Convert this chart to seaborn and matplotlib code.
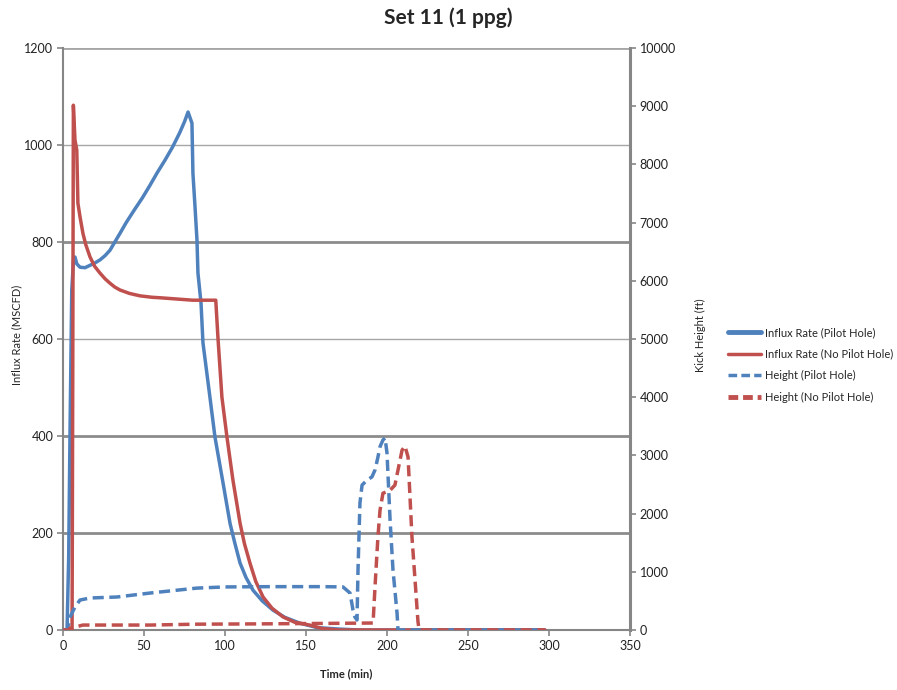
import matplotlib
matplotlib.use("Agg")
import matplotlib.pyplot as plt
from matplotlib.lines import Line2D
import numpy as np
import pandas as pd
import seaborn as sns

# Influx rate, pilot hole (left axis)
rate_pilot_t = [0, 2.5, 3.5, 4.3, 5.4, 6.5, 7.4, 8.5, 10.5, 13.6, 16.7, 19.8, 22.8, 26,
                29, 32, 35.2, 39, 44, 49, 53.7, 58, 63, 67.5, 72, 75, 77.2, 79.6,
                80.2, 81.5, 82.7, 83.3, 85.2, 86.4, 90.7, 93.8, 98.8, 103.1, 106,
                109.3, 113, 117.3, 123, 129.6, 137, 146.3, 156.8, 170, 183, 297.5]
rate_pilot_v = [0, 0, 150, 400, 700, 765, 769, 755, 748, 747, 752, 757, 763, 772,
                783, 800, 818, 840, 866, 891, 917, 942, 969, 995, 1025, 1048, 1068, 1045,
                942, 872, 804, 736, 674, 592, 480, 398, 303, 220, 180,
                138, 108, 82, 60, 41, 26, 14, 5, 2, 0, 0]

# Influx rate, no pilot hole (left axis)
rate_nopilot_t = [0, 5.6, 6.0, 6.4, 7.4, 8.5, 9.2, 10.5, 12.3, 14, 16.7, 19.5, 22.8,
                  26, 29, 32, 35.2, 41, 47.5, 55, 60, 72, 80, 94.3, 95, 95.7, 98.1,
                  101.2, 104.9, 109.3, 112, 115.4, 119, 123.5, 129, 135.8, 143, 152.5,
                  160, 170, 297.5]
rate_nopilot_v = [0, 0, 500, 1082, 1010, 990, 880, 852, 818, 795, 769, 750, 736,
                  724, 715, 707, 701, 694, 689, 686, 685, 682, 680, 680, 640, 600, 480,
                  398, 309, 220, 178, 138, 100, 68, 45, 27, 16, 10,
                  3, 0, 0]

# Kick height, pilot hole (right axis)
height_pilot_t = [0, 2.5, 3.1, 4.3, 7.4, 10.5, 16.7, 33.3, 53.7, 82.7, 100, 130, 160,
                  172.8, 177.2, 179, 180.2, 181.5, 182.1, 183.3, 184.6, 187.7, 190.7,
                  192.6, 194.4, 195.7, 197.5, 198.8, 200, 201.9, 203.7, 206.2, 206.8, 297.5]
height_pilot_v = [0, 0, 60, 220, 395, 515, 550, 567, 635, 720, 740, 745, 745,
                  740, 635, 344, 223, 172, 1030, 2180, 2490, 2577, 2630,
                  2750, 2970, 3150, 3265, 3300, 3040, 1890, 1030, 290, 0, 0]

# Kick height, no pilot hole (right axis)
height_nopilot_t = [0, 3.5, 4.3, 7.4, 12.3, 53.7, 82.7, 120, 170, 191.4, 192.6, 194.4,
                    195.7, 197.5, 201.9, 204.9, 206.8, 209.3, 211.1, 213, 215.4, 217.3,
                    219.1, 219.8, 297.5]
height_nopilot_v = [0, 0, 30, 50, 85, 85, 100, 105, 115, 120, 740, 1600,
                    2060, 2350, 2400, 2490, 2750, 3090, 3160, 2970, 1600, 860,
                    150, 0, 0]

labels = ["Influx Rate (Pilot Hole)", "Influx Rate (No Pilot Hole)",
          "Height (Pilot Hole)", "Height (No Pilot Hole)"]

BLUE = "#4F81BD"
RED = "#C0504D"

sns.set_style("white")
plt.rcParams["font.family"] = ["Lato", "DejaVu Sans"]

fig = plt.figure(figsize=(8.97, 6.90), dpi=100)
ax = fig.add_axes([63 / 897, 60 / 690, 567 / 897, 582 / 690])
ax2 = ax.twinx()

rate_p = pd.DataFrame({"t": rate_pilot_t, "v": rate_pilot_v})
rate_n = pd.DataFrame({"t": rate_nopilot_t, "v": rate_nopilot_v})
h_p = pd.DataFrame({"t": height_pilot_t, "v": height_pilot_v})
h_n = pd.DataFrame({"t": height_nopilot_t, "v": height_nopilot_v})

# horizontal gridlines (left axis)
for yv, lw, col in [(200, 2.0, "#8C8C8C"), (400, 2.0, "#8C8C8C"), (600, 1.0, "#A6A6A6"),
                    (800, 2.0, "#8C8C8C"), (1000, 1.0, "#A6A6A6"), (1200, 2.0, "#A6A6A6")]:
    ax.axhline(yv, color=col, lw=lw, zorder=0.5)

sns.lineplot(data=rate_p, x="t", y="v", ax=ax, color=BLUE, lw=2.5,
             estimator=None, sort=False, zorder=3)
sns.lineplot(data=rate_n, x="t", y="v", ax=ax, color=RED, lw=2.5,
             estimator=None, sort=False, zorder=3)
sns.lineplot(data=h_p, x="t", y="v", ax=ax2, color=BLUE, lw=2.5,
             estimator=None, sort=False, zorder=3)
sns.lineplot(data=h_n, x="t", y="v", ax=ax2, color=RED, lw=2.5,
             estimator=None, sort=False, zorder=3)
for ln in ax2.get_lines():
    ln.set_dashes([3.2, 1.6])

ax.set_xlim(0, 350)
ax.set_ylim(0, 1200)
ax2.set_ylim(0, 10000)
ax.set_xticks(np.arange(0, 351, 50))
ax.set_yticks(np.arange(0, 1201, 200))
ax2.set_yticks(np.arange(0, 10001, 1000))

spine_col = "#868686"
for a in (ax, ax2):
    for s in a.spines.values():
        s.set_visible(False)
ax.spines["left"].set_visible(True)
ax.spines["left"].set_color(spine_col)
ax.spines["left"].set_linewidth(1.5)
ax.spines["bottom"].set_visible(True)
ax.spines["bottom"].set_color(spine_col)
ax.spines["bottom"].set_linewidth(1.5)
ax2.spines["right"].set_visible(True)
ax2.spines["right"].set_color(spine_col)
ax2.spines["right"].set_linewidth(2.2)

ax.tick_params(axis="both", direction="out", length=4, width=1.2, color=spine_col,
               labelsize=9, labelcolor="#222222", pad=3)
ax.tick_params(axis="y", left=True)
ax.tick_params(axis="x", bottom=True)
ax2.tick_params(axis="y", direction="out", length=4, width=1.2, color=spine_col,
                labelsize=9, labelcolor="#222222", right=True, pad=3)

ax.set_xlabel("Time (min)", fontsize=8, fontweight="bold", labelpad=12)
ax.set_ylabel("")
ax2.set_ylabel("")
fig.text(17 / 897, 1 - 335 / 690, "Influx Rate (MSCFD)", rotation=90,
         ha="center", va="center", fontsize=8)
fig.text(700 / 897, 1 - 335 / 690, "Kick Height (ft)", rotation=90,
         ha="center", va="center", fontsize=8)

fig.suptitle("Set 11 (1 ppg)", x=0.5, y=1 - 18 / 690, va="center",
             fontsize=15, fontweight="bold")

handles = [Line2D([], [], color=BLUE, lw=3.5),
           Line2D([], [], color=RED, lw=2.5),
           Line2D([], [], color=BLUE, lw=2.5, dashes=[2.5, 1.2]),
           Line2D([], [], color=RED, lw=3.5, dashes=[2.0, 1.0])]
fig.legend(handles, labels, loc="center left", bbox_to_anchor=(718 / 897, 1 - 365 / 690),
           frameon=False, fontsize=8, handlelength=3.0, handletextpad=0.3,
           labelspacing=0.95)

fig.savefig("out.png", dpi=100)
